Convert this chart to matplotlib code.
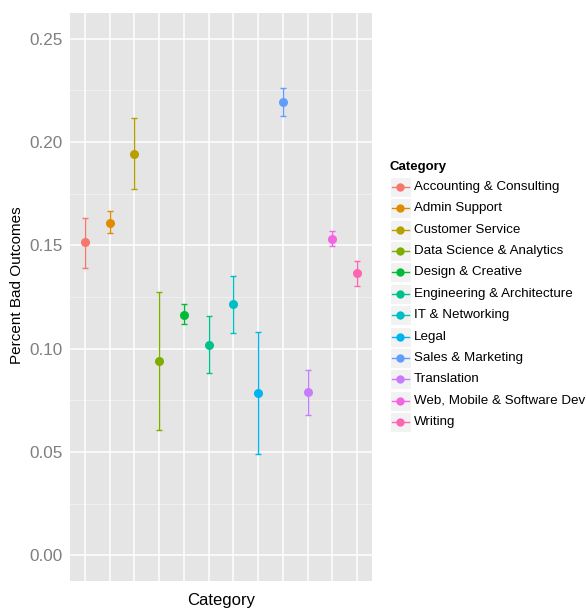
import matplotlib
matplotlib.use("Agg")
import matplotlib.pyplot as plt
from matplotlib.patches import Rectangle
from matplotlib.lines import Line2D

categories = ["Accounting & Consulting", "Admin Support", "Customer Service",
              "Data Science & Analytics", "Design & Creative",
              "Engineering & Architecture", "IT & Networking", "Legal",
              "Sales & Marketing", "Translation", "Web, Mobile & Software Dev",
              "Writing"]
pct_bad = [0.1515, 0.1610, 0.1944, 0.0938, 0.1165, 0.1020, 0.1214, 0.0783,
           0.2195, 0.0788, 0.1533, 0.1364]
err_low = [0.1391, 0.1559, 0.1771, 0.0608, 0.1117, 0.0882, 0.1077, 0.0488,
           0.2128, 0.0678, 0.1498, 0.1304]
err_high = [0.1633, 0.1667, 0.2115, 0.1272, 0.1215, 0.1156, 0.1351, 0.1080,
            0.2260, 0.0898, 0.1570, 0.1425]
colors = ["#F8766D", "#DE8C00", "#B79F00", "#7CAE00", "#00BA38", "#00C08B",
          "#00BFC4", "#00B4F0", "#619CFF", "#C77CFF", "#F564E3", "#FF64B0"]
yticks = [0.00, 0.05, 0.10, 0.15, 0.20, 0.25]
ytick_labels = ["0.00", "0.05", "0.10", "0.15", "0.20", "0.25"]

plt.rcParams['font.family'] = ['Liberation Sans', 'DejaVu Sans']

W, H = 586, 608
fig = plt.figure(figsize=(W / 100, H / 100), dpi=100)
ax = fig.add_axes([70 / W, 1 - 581 / H, (372 - 70) / W, (581 - 13) / H])
ax.set_facecolor("#E5E5E5")
for s in ax.spines.values():
    s.set_visible(False)

n = len(categories)
xs = list(range(1, n + 1))
ax.set_xlim(0.4, n + 0.6)
ax.set_ylim(-0.0125, 0.2625)

# grid
for yv in [0.025, 0.075, 0.125, 0.175, 0.225]:
    ax.axhline(yv, color="#F2F2F2", lw=0.6, zorder=0)
for yv in yticks:
    ax.axhline(yv, color="white", lw=1.1, zorder=0)
for xv in xs:
    ax.axvline(xv, color="white", lw=1.1, zorder=0)

for i in range(n):
    lo = pct_bad[i] - err_low[i]
    hi = err_high[i] - pct_bad[i]
    ax.errorbar([xs[i]], [pct_bad[i]], yerr=[[lo], [hi]], fmt="none",
                ecolor=colors[i], elinewidth=1.0, capsize=2.3, capthick=1.0,
                zorder=2)
    ax.plot([xs[i]], [pct_bad[i]], "o", color=colors[i], markersize=6.5,
            markeredgewidth=0, zorder=3)

ax.set_yticks(yticks)
ax.set_yticklabels(ytick_labels)
ax.set_xticks([])
ax.tick_params(axis="y", length=0, pad=5.5, labelsize=12.3, labelcolor="#7F7F7F")

fig.text(221 / W, 1 - 605 / H, "Category", fontsize=12, color="black",
         ha="center", va="baseline")
fig.text(17.5 / W, 1 - 285.5 / H, "Percent Bad Outcomes", fontsize=11,
         color="black", ha="center", va="center", rotation=90)

# legend (manual, ggplot style)
fig.text(390 / W, 1 - 167 / H, "Category", fontsize=9.5, fontweight="bold",
         va="center", ha="left")
y0 = 187.0
dy = 21.36
for i in range(n):
    yc = y0 + i * dy
    fig.add_artist(Rectangle((390 / W, 1 - (yc + 10) / H), 20.5 / W, 20 / H,
                             transform=fig.transFigure, facecolor="#F2F2F2",
                             edgecolor="white", lw=0.8))
    fig.add_artist(Line2D([392 / W, 409 / W], [1 - yc / H, 1 - yc / H],
                          transform=fig.transFigure, color=colors[i], lw=1.0))
    fig.add_artist(Line2D([400.25 / W], [1 - yc / H], transform=fig.transFigure,
                          marker="o", markersize=6, markeredgewidth=0,
                          color=colors[i]))
    fig.text(414 / W, 1 - yc / H, categories[i], fontsize=9.6, va="center",
             ha="left")

fig.savefig("out.png", dpi=100)
